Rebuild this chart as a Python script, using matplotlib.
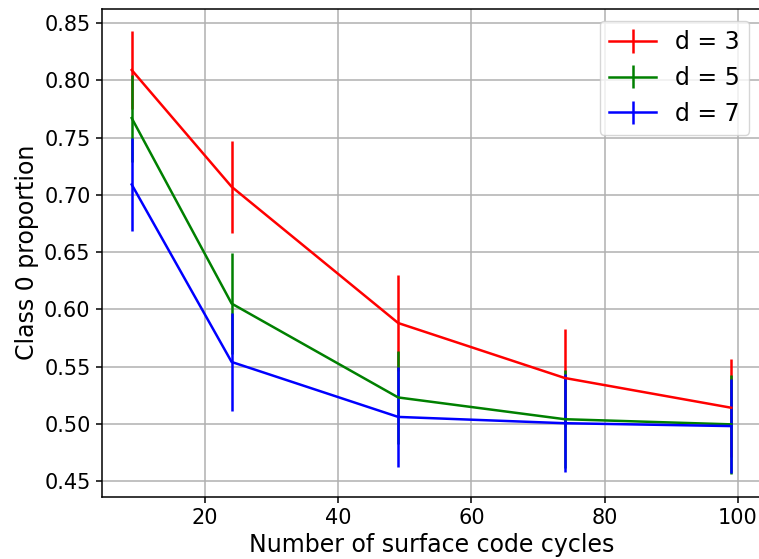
import numpy as np
import matplotlib
matplotlib.use("Agg")
import matplotlib.pyplot as plt

cycles = [9, 24, 49, 74, 99]

p_d3 = [0.809, 0.707, 0.588, 0.540, 0.514]
e_d3 = [0.034, 0.040, 0.042, 0.043, 0.043]

p_d5 = [0.767, 0.605, 0.523, 0.504, 0.4995]
e_d5 = [0.038, 0.044, 0.041, 0.043, 0.043]

p_d7 = [0.709, 0.554, 0.506, 0.5005, 0.498]
e_d7 = [0.041, 0.043, 0.044, 0.043, 0.041]

fig = plt.figure(figsize=(7.59, 5.59), dpi=100)
ax = fig.add_axes([0.134, 0.1114, 0.869, 0.873])

for p, e, cor, lab in [(p_d3, e_d3, "red", "d = 3"),
                       (p_d5, e_d5, "green", "d = 5"),
                       (p_d7, e_d7, "blue", "d = 7")]:
    ax.errorbar(cycles, p, yerr=e, color=cor, linewidth=1.8,
                elinewidth=1.8, label=lab)

ax.set_ylim(0.4363, 0.8625)
ax.set_xlabel("Number of surface code cycles", fontsize=17)
ax.set_ylabel("Class 0 proportion", fontsize=17)
ax.tick_params(labelsize=15, width=1.1, length=4, pad=4)
for s in ax.spines.values():
    s.set_linewidth(1.1)
ax.grid(True, color="#b0b0b0", linewidth=1.1)
ax.legend(loc="upper right", fontsize=17)

plt.savefig("out.png", dpi=100)
